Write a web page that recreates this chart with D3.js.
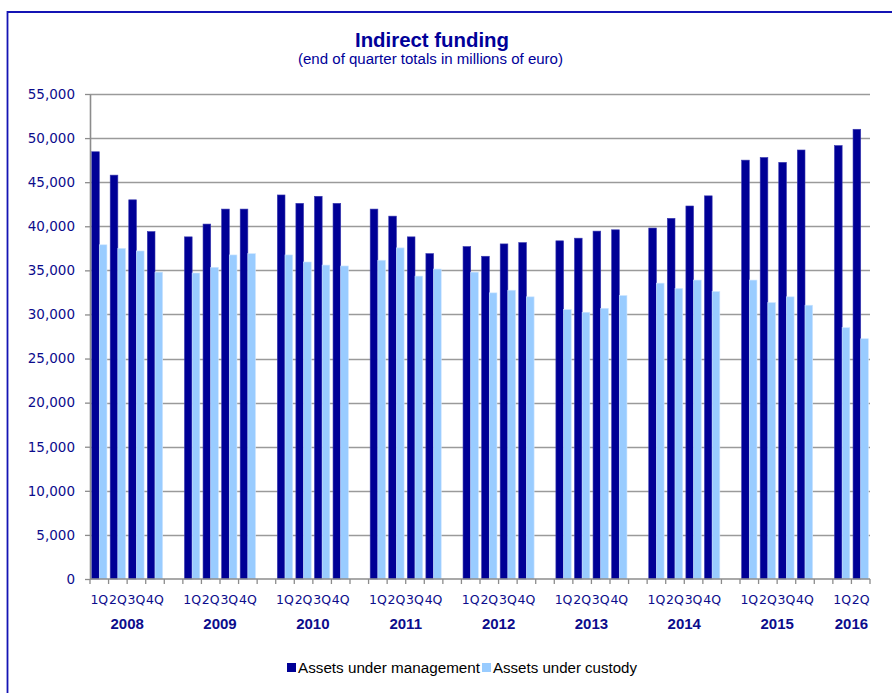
<!DOCTYPE html>
<html>
<head>
<meta charset="utf-8">
<script src="https://cdn.jsdelivr.net/npm/d3@7"></script>
<style>
  html, body { margin: 0; padding: 0; background: #fff; }
  svg { display: block; }
</style>
</head>
<body>
<svg id="chart" width="892" height="693"></svg>
<script>
// Quarterly totals, in millions of euro
const years = ["2008", "2009", "2010", "2011", "2012", "2013", "2014", "2015", "2016"];
const quarters = ["1Q", "2Q", "3Q", "4Q"];
const quartersPerYear = [4, 4, 4, 4, 4, 4, 4, 4, 2];
const management = [
  48450, 45800, 43000, 39400,
  38800, 40250, 41950, 41950,
  43550, 42600, 43400, 42600,
  41950, 41150, 38800, 36900,
  37700, 36600, 38000, 38150,
  38350, 38650, 39450, 39600,
  39800, 40900, 42300, 43450,
  47500, 47800, 47250, 48650,
  49150, 51000
];
const custody = [
  37900, 37500, 37200, 34800,
  34700, 35350, 36750, 36900,
  36750, 35950, 35600, 35500,
  36150, 37550, 34350, 35150,
  34800, 32450, 32750, 32000,
  30550, 30250, 30700, 32150,
  33550, 32950, 33900, 32600,
  33900, 31350, 32000, 31050,
  28500, 27250
];
const yTicks = d3.range(0, 55001, 5000);
const seriesNames = ["Assets under management", "Assets under custody"];
const seriesColors = ["#000096", "#99CCFF"];

// Build the category list: one slot per quarter, with an empty slot between years
const slots = [];
const rows = [];
let k = 0;
years.forEach((yr, yi) => {
  for (let q = 0; q < quartersPerYear[yi]; q++) {
    const key = yr + "-" + quarters[q];
    slots.push({ key, year: yr, label: quarters[q] });
    rows.push({ key, values: [management[k], custody[k]] });
    k++;
  }
  if (yi < years.length - 1) slots.push({ key: "gap-" + yr, year: null, label: "" });
});

const svg = d3.select("#chart");
const navy = "#0C0C8C";
const axisFont = "'DejaVu Sans', Tahoma, sans-serif";
const plotLeft = 90, plotRight = 870, plotTop = 94, plotBottom = 579;

// Frame
svg.append("path")
  .attr("d", "M7.5,700 L7.5,12 L900,12")
  .attr("fill", "none")
  .attr("stroke", "#1414B4")
  .attr("stroke-width", 1.8);

const x = d3.scaleBand().domain(slots.map(d => d.key)).range([plotLeft, plotRight]).paddingInner(0).paddingOuter(0);
const inner = d3.scaleBand().domain([0, 1]).range([0, x.bandwidth()]).paddingOuter(0.21).paddingInner(0);
const y = d3.scaleLinear().domain([0, 55000]).range([plotBottom, plotTop]);

// Gridlines
svg.append("g")
  .selectAll("line")
  .data(yTicks.filter(v => v > 0))
  .join("line")
  .attr("x1", plotLeft).attr("x2", plotRight)
  .attr("y1", d => Math.round(y(d)) + 0.5).attr("y2", d => Math.round(y(d)) + 0.5)
  .attr("stroke", "#9a9a9a").attr("stroke-width", 1.3);

// Bars
const groups = svg.append("g")
  .selectAll("g")
  .data(rows)
  .join("g")
  .attr("transform", d => `translate(${x(d.key)},0)`);
groups.selectAll("rect")
  .data(d => d.values.map((v, i) => ({ v, i })))
  .join("rect")
  .attr("x", d => inner(d.i))
  .attr("y", d => y(d.v))
  .attr("width", inner.bandwidth())
  .attr("height", d => y(0) - y(d.v))
  .attr("fill", d => seriesColors[d.i])
  .attr("stroke", d => d.i === 0 ? "#3a3ab0" : "#cfe6ff")
  .attr("stroke-width", 0.6);

// Y axis
const yAxis = svg.append("g")
  .attr("transform", `translate(${plotLeft},0)`)
  .call(d3.axisLeft(y).tickValues(yTicks).tickFormat(d3.format(",")).tickSize(5).tickSizeOuter(0).tickPadding(10));
yAxis.select(".domain").attr("stroke", "#8C8C8C").attr("stroke-width", 1.6);
yAxis.selectAll(".tick line").attr("stroke", "#8C8C8C").attr("stroke-width", 1.3);
yAxis.selectAll(".tick text")
  .attr("fill", navy)
  .style("font-family", axisFont)
  .style("font-size", "13.5px");

// X axis: ticks on every slot boundary
const xAxisG = svg.append("g");
xAxisG.append("line")
  .attr("x1", plotLeft).attr("x2", plotRight)
  .attr("y1", plotBottom).attr("y2", plotBottom)
  .attr("stroke", "#8C8C8C").attr("stroke-width", 1.6);
const boundaries = slots.map(d => x(d.key)).concat([plotRight]);
xAxisG.selectAll("line.tk")
  .data(boundaries)
  .join("line")
  .attr("class", "tk")
  .attr("x1", d => d).attr("x2", d => d)
  .attr("y1", plotBottom).attr("y2", plotBottom + 5)
  .attr("stroke", "#8C8C8C").attr("stroke-width", 1.3);

// Quarter labels
xAxisG.selectAll("text.q")
  .data(slots.filter(d => d.label))
  .join("text")
  .attr("class", "q")
  .attr("x", d => x(d.key) + x.bandwidth() / 2)
  .attr("y", 604)
  .attr("text-anchor", "middle")
  .attr("fill", navy)
  .style("font-family", axisFont)
  .style("font-size", "12.5px")
  .text(d => d.label);

// Year labels, centred under their quarters
xAxisG.selectAll("text.yr")
  .data(years)
  .join("text")
  .attr("class", "yr")
  .attr("x", yr => {
    const s = slots.filter(d => d.year === yr);
    return (x(s[0].key) + x(s[s.length - 1].key) + x.bandwidth()) / 2;
  })
  .attr("y", 629)
  .attr("text-anchor", "middle")
  .attr("fill", navy)
  .style("font-family", "'Liberation Sans', Arial, sans-serif")
  .style("font-size", "15px")
  .style("font-weight", "bold")
  .text(d => d);

// Title
svg.append("text")
  .attr("x", 432).attr("y", 47)
  .attr("text-anchor", "middle")
  .attr("fill", "#000099")
  .attr("textLength", 154)
  .attr("lengthAdjust", "spacingAndGlyphs")
  .style("font-family", "'Liberation Sans', Arial, sans-serif")
  .style("font-size", "21px")
  .style("font-weight", "bold")
  .text("Indirect funding");
svg.append("text")
  .attr("x", 430.5).attr("y", 64)
  .attr("text-anchor", "middle")
  .attr("fill", "#000099")
  .attr("textLength", 265)
  .attr("lengthAdjust", "spacingAndGlyphs")
  .style("font-family", "'Liberation Sans', Arial, sans-serif")
  .style("font-size", "14px")
  .text("(end of quarter totals in millions of euro)");

// Legend
const legend = svg.append("g");
const legendItems = [
  { name: seriesNames[0], color: seriesColors[0], sx: 287, tx: 298, tw: 182 },
  { name: seriesNames[1], color: seriesColors[1], sx: 482, tx: 493, tw: 144 }
];
legendItems.forEach(it => {
  legend.append("rect")
    .attr("x", it.sx).attr("y", 663).attr("width", 9).attr("height", 9)
    .attr("fill", it.color);
  legend.append("text")
    .attr("x", it.tx).attr("y", 673)
    .attr("fill", "#000")
    .attr("textLength", it.tw)
    .attr("lengthAdjust", "spacingAndGlyphs")
    .style("font-family", "'Liberation Sans', Arial, sans-serif")
    .style("font-size", "14px")
    .text(it.name);
});
</script>
</body>
</html>
